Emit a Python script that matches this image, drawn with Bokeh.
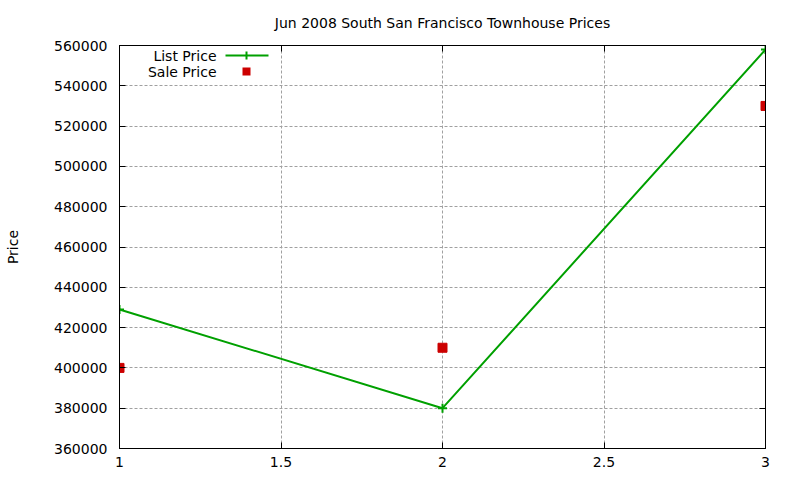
from bokeh.plotting import figure
from bokeh.models import (LinearAxis, FixedTicker, BasicTickFormatter, CustomJSTickFormatter,
                          Label, BoxAnnotation, Range1d)
from bokeh.embed import file_html
from bokeh.resources import INLINE

title = "Jun 2008 South San Francisco Townhouse Prices"
x_vals = [1, 2, 3]
list_price = [429000, 380000, 558000]
sale_price = [400000, 410000, 530000]
x_ticks = [1, 1.5, 2, 2.5, 3]
y_ticks = [360000, 380000, 400000, 420000, 440000, 460000, 480000, 500000, 520000, 540000, 560000]
series_names = ["List Price", "Sale Price"]
y_label = "Price"

FONT = "DejaVu Sans"
FS = "14px"
GREEN = "#00a000"
RED = "#cc0000"

p = figure(width=800, height=480, output_backend="svg", toolbar_location=None,
           x_range=Range1d(1, 3), y_range=Range1d(360000, 560000),
           min_border_left=119, min_border_right=35, min_border_top=45, min_border_bottom=32,
           title=title)
p.title.align = "center"
p.title.text_font = FONT
p.title.text_font_size = FS
p.title.text_font_style = "normal"
p.title.text_color = "black"
p.title.standoff = 25
p.title.vertical_align = "top"

p.outline_line_color = "black"
p.outline_line_width = 1
p.background_fill_color = "white"
p.border_fill_color = "white"

for ax in (p.xaxis[0], p.yaxis[0]):
    ax.major_label_text_font = FONT
    ax.major_label_text_font_size = FS
    ax.major_label_text_color = "black"
    ax.major_tick_in = 6
    ax.major_tick_out = 0
    ax.minor_tick_line_color = None
    ax.axis_line_color = "black"
    ax.major_tick_line_color = "black"

p.xaxis[0].ticker = FixedTicker(ticks=x_ticks)
p.yaxis[0].ticker = FixedTicker(ticks=y_ticks)
p.yaxis[0].formatter = BasicTickFormatter(use_scientific=False)
p.xaxis[0].major_label_standoff = 8
p.yaxis[0].major_label_standoff = 12
p.yaxis[0].axis_label = y_label
p.yaxis[0].axis_label_text_font = FONT
p.yaxis[0].axis_label_text_font_size = FS
p.yaxis[0].axis_label_text_font_style = "normal"
p.yaxis[0].axis_label_text_color = "black"
p.yaxis[0].axis_label_standoff = 30

# mirrored ticks (no labels)
blank = CustomJSTickFormatter(code="return ''")
rax = LinearAxis(ticker=FixedTicker(ticks=y_ticks), formatter=blank, major_tick_in=6, major_tick_out=0,
                 major_label_standoff=0, minor_tick_line_color=None, axis_line_color="black")
tax = LinearAxis(ticker=FixedTicker(ticks=x_ticks), formatter=blank, major_tick_in=6, major_tick_out=0,
                 major_label_standoff=0, minor_tick_line_color=None, axis_line_color="black")
p.add_layout(rax, "right")
p.add_layout(tax, "above")

for g in (p.xgrid[0], p.ygrid[0]):
    g.grid_line_color = "#a0a0a0"
    g.grid_line_dash = "3 2"
    g.grid_line_width = 1
p.xgrid[0].ticker = FixedTicker(ticks=x_ticks)
p.ygrid[0].ticker = FixedTicker(ticks=y_ticks)

p.line(x_vals, list_price, line_color=GREEN, line_width=2)
p.scatter(x_vals, list_price, marker="cross", size=9, line_color=GREEN, line_width=2)
p.scatter(x_vals, sale_price, marker="square", size=9, fill_color=RED, line_color=RED)

fh = 403
# gnuplot-style key (text left of sample)
p.add_layout(Label(x=97, y=fh - 10, x_units="screen", y_units="screen", text=series_names[0],
                   text_align="right", text_baseline="middle", text_font=FONT,
                   text_font_size=FS, text_color="black"))
p.add_layout(Label(x=97, y=fh - 26, x_units="screen", y_units="screen", text=series_names[1],
                   text_align="right", text_baseline="middle", text_font=FONT,
                   text_font_size=FS, text_color="black"))
p.add_layout(BoxAnnotation(left=106, right=149, top=fh - 9, bottom=fh - 11,
                           left_units="screen", right_units="screen", top_units="screen", bottom_units="screen",
                           fill_color=GREEN, fill_alpha=1, line_color=None))
p.add_layout(BoxAnnotation(left=126, right=128, top=fh - 6, bottom=fh - 14,
                           left_units="screen", right_units="screen", top_units="screen", bottom_units="screen",
                           fill_color=GREEN, fill_alpha=1, line_color=None))
p.add_layout(BoxAnnotation(left=123, right=131, top=fh - 22, bottom=fh - 30,
                           left_units="screen", right_units="screen", top_units="screen", bottom_units="screen",
                           fill_color=RED, fill_alpha=1, line_color=None))

open("out.html", "w").write(file_html(p, INLINE))
